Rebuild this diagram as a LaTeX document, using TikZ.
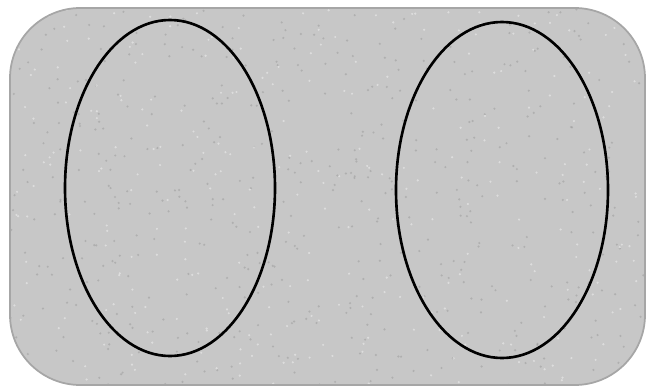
\documentclass[tikz,border=0pt]{standalone}
\begin{document}
\begin{tikzpicture}[x=0.02cm,y=-0.02cm]
  \useasboundingbox (0,0) rectangle (652,389);
  % plate
  \fill[black!22] (10,8) [rounded corners=40] rectangle (645,385);
  % speckle
  \begin{scope}
    \clip[rounded corners=40] (10,8) rectangle (645,385);
    \pgfmathsetseed{7}
    \foreach \i in {1,...,500} {
      \fill[black!40,opacity=0.5] ({10+635*rnd},{8+377*rnd}) circle (1.2);
    }
    \foreach \i in {1,...,300} {
      \fill[white,opacity=0.4] ({10+635*rnd},{8+377*rnd}) circle (1.2);
    }
  \end{scope}
  \draw[black!35,line width=1pt] (10,8) [rounded corners=40] rectangle (645,385);
  % left and right rings
  \draw[line width=1.5pt] (170,188) ellipse (105 and 168);
  \draw[line width=1.5pt] (502,190) ellipse (106 and 168);
\end{tikzpicture}
\end{document}
